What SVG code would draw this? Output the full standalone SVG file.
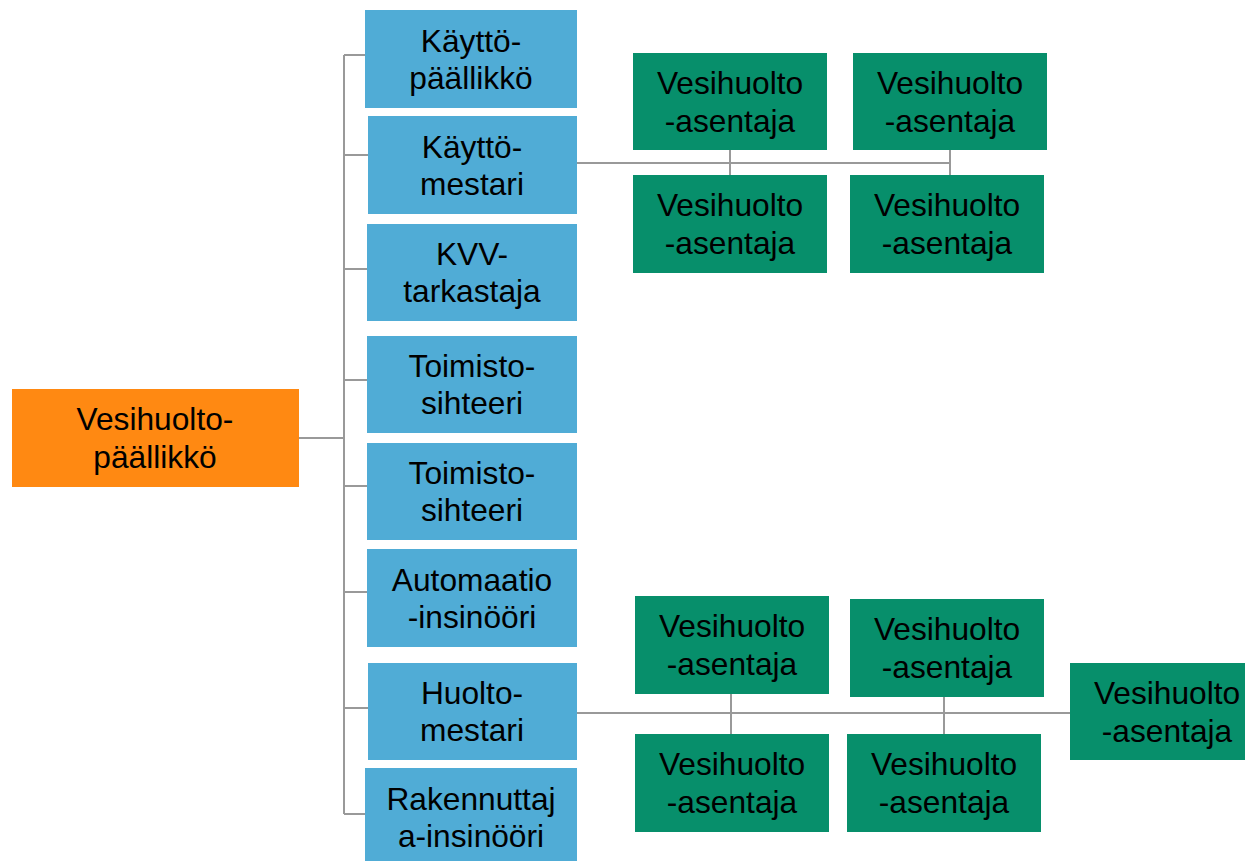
<svg xmlns="http://www.w3.org/2000/svg" width="1245" height="861" viewBox="0 0 1245 861">
<style>
.t{font-family:"Liberation Sans",Arial,sans-serif;font-size:31.7px;fill:#000;text-anchor:middle}
.b{fill:#50ACD6}
.g{fill:#078F6B}
.o{fill:#FF8912}
.c{stroke:#999999;stroke-width:2;fill:none}
</style>
<rect width="1245" height="861" fill="#fff"/>
<g id="connectors">
<path class="c" d="M299 438H344M344 55V814M344 55H365M344 155H368M344 269H367M344 380H367M344 486H367M344 592H367M344 708H368M344 814H365"/>
<path class="c" d="M577 163H950M730 150V175M950 150V175"/>
<path class="c" d="M577 713H1070M731 694V734M944 697V734"/>
</g>
<g id="n0"><rect class="o" x="12" y="389" width="287" height="98"/><text class="t" x="155" y="430">Vesihuolto-</text><text class="t" x="155" y="468">päällikkö</text></g>
<g id="n1"><rect class="b" x="365" y="10" width="212" height="98"/><text class="t" x="471" y="52">Käyttö-</text><text class="t" x="471" y="89">päällikkö</text></g>
<g id="n2"><rect class="b" x="368" y="116" width="209" height="98"/><text class="t" x="472" y="158">Käyttö-</text><text class="t" x="472" y="195">mestari</text></g>
<g id="n3"><rect class="b" x="367" y="224" width="210" height="97"/><text class="t" x="472" y="265">KVV-</text><text class="t" x="472" y="302">tarkastaja</text></g>
<g id="n4"><rect class="b" x="367" y="336" width="210" height="97"/><text class="t" x="472" y="377">Toimisto-</text><text class="t" x="472" y="414">sihteeri</text></g>
<g id="n5"><rect class="b" x="367" y="443" width="210" height="97"/><text class="t" x="472" y="484">Toimisto-</text><text class="t" x="472" y="521">sihteeri</text></g>
<g id="n6"><rect class="b" x="367" y="549" width="210" height="98"/><text class="t" x="472" y="591">Automaatio</text><text class="t" x="472" y="628">-insinööri</text></g>
<g id="n7"><rect class="b" x="368" y="663" width="209" height="97"/><text class="t" x="472" y="704">Huolto-</text><text class="t" x="472" y="741">mestari</text></g>
<g id="n8"><rect class="b" x="365" y="768" width="212" height="98"/><text class="t" x="471" y="810">Rakennuttaj</text><text class="t" x="471" y="847">a-insinööri</text></g>
<g id="g1"><rect class="g" x="633" y="53" width="194" height="97"/><text class="t" x="730" y="94">Vesihuolto</text><text class="t" x="730" y="132">-asentaja</text></g>
<g id="g2"><rect class="g" x="853" y="53" width="194" height="97"/><text class="t" x="950" y="94">Vesihuolto</text><text class="t" x="950" y="132">-asentaja</text></g>
<g id="g3"><rect class="g" x="633" y="175" width="194" height="98"/><text class="t" x="730" y="216">Vesihuolto</text><text class="t" x="730" y="254">-asentaja</text></g>
<g id="g4"><rect class="g" x="850" y="175" width="194" height="98"/><text class="t" x="947" y="216">Vesihuolto</text><text class="t" x="947" y="254">-asentaja</text></g>
<g id="g5"><rect class="g" x="635" y="596" width="194" height="98"/><text class="t" x="732" y="637">Vesihuolto</text><text class="t" x="732" y="675">-asentaja</text></g>
<g id="g6"><rect class="g" x="850" y="599" width="194" height="98"/><text class="t" x="947" y="640">Vesihuolto</text><text class="t" x="947" y="678">-asentaja</text></g>
<g id="g7"><rect class="g" x="1070" y="663" width="194" height="97"/><text class="t" x="1167" y="704">Vesihuolto</text><text class="t" x="1167" y="742">-asentaja</text></g>
<g id="g8"><rect class="g" x="635" y="734" width="194" height="98"/><text class="t" x="732" y="775">Vesihuolto</text><text class="t" x="732" y="813">-asentaja</text></g>
<g id="g9"><rect class="g" x="847" y="734" width="194" height="98"/><text class="t" x="944" y="775">Vesihuolto</text><text class="t" x="944" y="813">-asentaja</text></g>
</svg>
